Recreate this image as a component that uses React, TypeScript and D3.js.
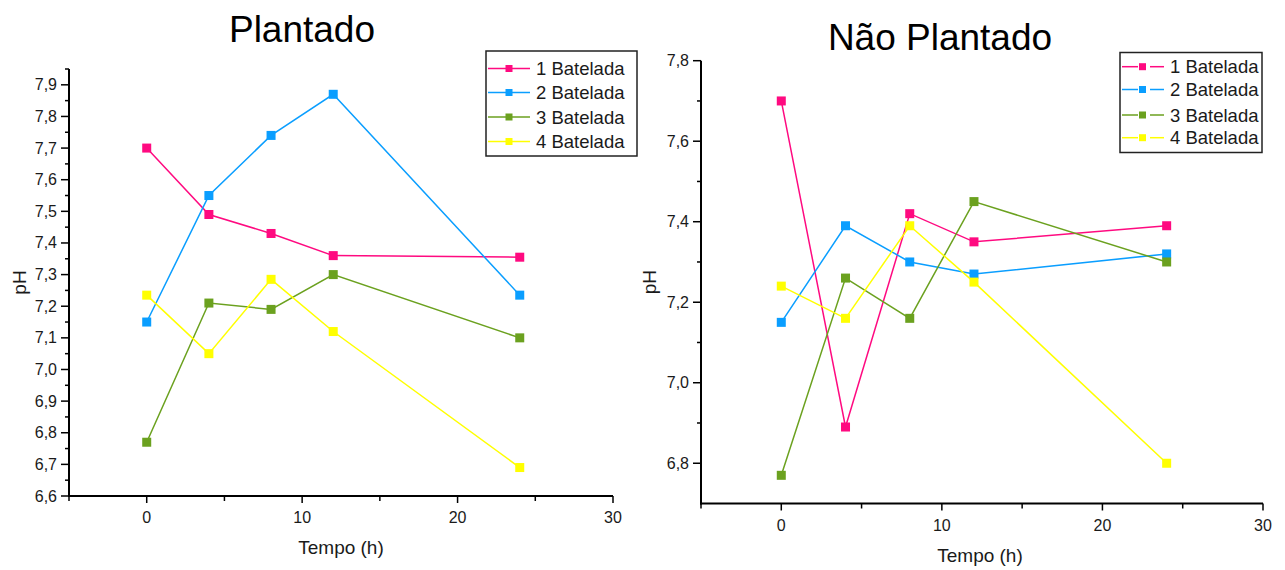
import React from "react";
import * as d3 from "d3";

// Sampling times (h)
const tempos = [0, 4, 8, 12, 24];

const seriesNames = ["1 Batelada", "2 Batelada", "3 Batelada", "4 Batelada"];
const seriesColors = ["#FF0A80", "#0A9EFF", "#6BA11F", "#FFFF00"];

// pH — planted system
const plantado1 = [7.70, 7.49, 7.43, 7.36, 7.355];
const plantado2 = [7.15, 7.55, 7.74, 7.87, 7.235];
const plantado3 = [6.77, 7.21, 7.19, 7.30, 7.10];
const plantado4 = [7.235, 7.05, 7.285, 7.12, 6.69];

// pH — unplanted system
const naoPlantado1 = [7.70, 6.89, 7.42, 7.35, 7.39];
const naoPlantado2 = [7.15, 7.39, 7.30, 7.27, 7.32];
const naoPlantado3 = [6.77, 7.26, 7.16, 7.45, 7.30];
const naoPlantado4 = [7.24, 7.16, 7.39, 7.25, 6.80];

const xTicks = [0, 10, 20, 30];
const xMinorTicks = [-5, 5, 15, 25];
const plantadoYTicks = [6.6, 6.7, 6.8, 6.9, 7.0, 7.1, 7.2, 7.3, 7.4, 7.5, 7.6, 7.7, 7.8, 7.9];
const naoPlantadoYTicks = [6.8, 7.0, 7.2, 7.4, 7.6, 7.8];

const FONT = "'Liberation Sans', Arial, sans-serif";
const fmt = (v: number) => d3.format(".1f")(v).replace(".", ",");

type PanelProps = {
  title: string;
  titleX: number;
  titleY: number;
  series: number[][];
  xRange: [number, number];
  yDomain: [number, number];
  yRange: [number, number];
  yTicks: number[];
  yMinor: number[];
  legend: { x: number; y: number; w: number; h: number; rowY: number[]; gap: boolean };
  xLabelX: number;
  xLabelY: number;
  yLabelX: number;
};

function Panel(p: PanelProps) {
  const x = d3.scaleLinear().domain([-5, 30]).range(p.xRange);
  const y = d3.scaleLinear().domain(p.yDomain).range(p.yRange);
  const y0 = p.yRange[0];
  const x0 = p.xRange[0];
  const line = d3
    .line<number>()
    .x((_, i) => x(tempos[i]))
    .y((v) => y(v));
  const ms = 9;
  return (
    <g fontFamily={FONT}>
      <text x={p.titleX} y={p.titleY} fontSize={37} textAnchor="middle" fill="#000">
        {p.title}
      </text>
      {p.series.map((s, k) => (
        <g key={k}>
          <path d={line(s) || ""} fill="none" stroke={seriesColors[k]} strokeWidth={1.5} />
          {s.map((v, i) => (
            <rect
              key={i}
              x={x(tempos[i]) - ms / 2}
              y={y(v) - ms / 2}
              width={ms}
              height={ms}
              fill={seriesColors[k]}
            />
          ))}
        </g>
      ))}
      {/* axes */}
      <line x1={x0} x2={x0} y1={p.yRange[1]} y2={y0 + 1} stroke="#000" strokeWidth={2} />
      <line x1={x0 - 1} x2={p.xRange[1]} y1={y0} y2={y0} stroke="#000" strokeWidth={2} />
      {p.yTicks.map((t) => (
        <g key={t}>
          <line x1={x0 - 8} x2={x0} y1={y(t)} y2={y(t)} stroke="#000" strokeWidth={1.5} />
          <text x={x0 - 12} y={y(t) + 5.5} fontSize={16} textAnchor="end" fill="#1a1a1a">
            {fmt(t)}
          </text>
        </g>
      ))}
      {p.yMinor.map((t) => (
        <line key={t} x1={x0 - 4} x2={x0} y1={y(t)} y2={y(t)} stroke="#000" strokeWidth={1.5} />
      ))}
      {xTicks.map((t) => (
        <g key={t}>
          <line x1={x(t)} x2={x(t)} y1={y0} y2={y0 + 7} stroke="#000" strokeWidth={1.5} />
          <text x={x(t)} y={y0 + 27} fontSize={16} textAnchor="middle" fill="#1a1a1a">
            {t}
          </text>
        </g>
      ))}
      {xMinorTicks.map((t) => (
        <line key={t} x1={x(t)} x2={x(t)} y1={y0} y2={y0 + 5} stroke="#000" strokeWidth={1.5} />
      ))}
      <text x={p.xLabelX} y={p.xLabelY} fontSize={19} textAnchor="middle" fill="#1a1a1a">
        Tempo (h)
      </text>
      <text
        transform={`translate(${p.yLabelX},${(p.yRange[0] + p.yRange[1]) / 2}) rotate(-90)`}
        fontSize={19}
        textAnchor="middle"
        fill="#1a1a1a"
      >
        pH
      </text>
      {/* legend */}
      <rect
        x={p.legend.x}
        y={p.legend.y}
        width={p.legend.w}
        height={p.legend.h}
        fill="#fff"
        stroke="#222"
        strokeWidth={1.5}
      />
      {seriesNames.map((n, k) => {
        const ry = p.legend.rowY[k];
        const lx = p.legend.x + 2;
        return (
          <g key={n}>
            {p.legend.gap ? (
              <>
                <line x1={lx} x2={lx + 16} y1={ry} y2={ry} stroke={seriesColors[k]} strokeWidth={1.5} />
                <line x1={lx + 28} x2={lx + 42} y1={ry} y2={ry} stroke={seriesColors[k]} strokeWidth={1.5} />
                <rect x={lx + 17} y={ry - 3.5} width={7} height={7} fill={seriesColors[k]} />
              </>
            ) : (
              <>
                <line x1={lx} x2={lx + 42} y1={ry} y2={ry} stroke={seriesColors[k]} strokeWidth={1.5} />
                <rect x={lx + 17.5} y={ry - 3.5} width={7} height={7} fill={seriesColors[k]} />
              </>
            )}
            <text x={lx + 48} y={ry + 6.5} fontSize={18.5} fill="#1a1a1a">
              {n}
            </text>
          </g>
        );
      })}
    </g>
  );
}

export default function App() {
  const r = (a: number, b: number, s: number) => d3.range(a, b + 1e-9, s).map((v) => +v.toFixed(2));
  return (
    <svg width={1285} height={570} style={{ position: "absolute", left: 0, top: 0, background: "#fff" }}>
      <rect width={1285} height={570} fill="#fff" />
      <Panel
        title="Plantado"
        titleX={302}
        titleY={42}
        series={[plantado1, plantado2, plantado3, plantado4]}
        xRange={[69, 613]}
        yDomain={[6.6, 7.95]}
        yRange={[496, 69]}
        yTicks={plantadoYTicks}
        yMinor={r(6.65, 7.95, 0.1)}
        legend={{ x: 486, y: 51, w: 151, h: 105, rowY: [68.5, 92.5, 117, 141.5], gap: false }}
        xLabelX={341}
        xLabelY={554}
        yLabelX={25.5}
      />
      <Panel
        title="Não Plantado"
        titleX={940}
        titleY={50}
        series={[naoPlantado1, naoPlantado2, naoPlantado3, naoPlantado4]}
        xRange={[701, 1263]}
        yDomain={[6.7, 7.8]}
        yRange={[503.5, 60.7]}
        yTicks={naoPlantadoYTicks}
        yMinor={r(6.9, 7.7, 0.2)}
        legend={{ x: 1120, y: 52.5, w: 142, h: 100, rowY: [66.7, 89.5, 115, 137.7], gap: true }}
        xLabelX={980}
        xLabelY={562}
        yLabelX={656}
      />
    </svg>
  );
}
